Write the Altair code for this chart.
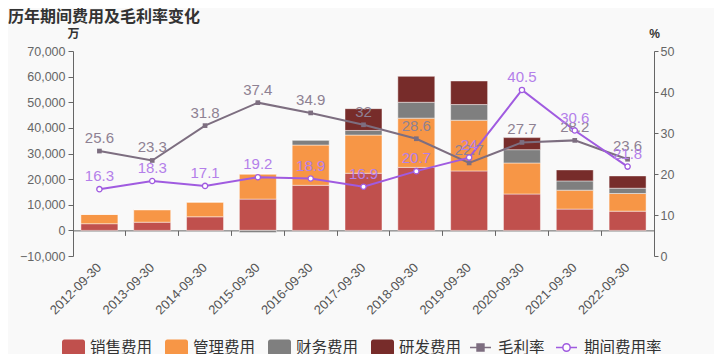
import altair as alt
import pandas as pd

years = ["2012-09-30", "2013-09-30", "2014-09-30", "2015-09-30", "2016-09-30",
         "2017-09-30", "2018-09-30", "2019-09-30", "2020-09-30", "2021-09-30", "2022-09-30"]
sales = [2600, 3200, 5300, 12200, 17600, 22300, 24600, 23200, 14200, 8300, 7500]
mgmt = [3700, 4900, 5800, 9800, 15700, 14900, 19200, 19800, 12100, 7400, 6900]
finance = [0, 0, 0, -800, 1950, 1800, 6200, 6100, 5200, 3600, 2050]
rnd = [0, 0, 0, 0, 0, 8500, 10100, 9200, 4700, 4300, 4800]
gross = [25.6, 23.3, 31.8, 37.4, 34.9, 32, 28.6, 22.7, 27.7, 28.2, 23.6]
period = [16.3, 18.3, 17.1, 19.2, 18.9, 16.9, 20.7, 24, 40.5, 30.6, 21.8]

bar_cats = ["销售费用", "管理费用", "财务费用", "研发费用"]
bar_colors = ["#c0504d", "#f79646", "#7f7f7f", "#772c2a"]
line_cats = ["毛利率", "期间费用率"]
line_colors = ["#7d6e80", "#a05be0"]
label_colors = ["#8e8193", "#b47fea"]

FONT = "Liberation Sans, Noto Sans CJK SC, sans-serif"

rows = []
for i, y in enumerate(years):
    for k, (cat, vals) in enumerate(zip(bar_cats, [sales, mgmt, finance, rnd])):
        rows.append({"year": y, "cat": cat, "value": vals[i], "order": k})
bar_df = pd.DataFrame(rows)

gross_df = pd.DataFrame({"year": years, "rate": gross, "series": line_cats[0]})
period_df = pd.DataFrame({"year": years, "rate": period, "series": line_cats[1]})

band = alt.Scale(paddingInner=0.3, paddingOuter=0.15)

x_axis = alt.Axis(orient="bottom", title=None, labelAngle=-45, labelAlign="right",
                  labelBaseline="middle", domain=False, ticks=False, labelPadding=9,
                  labelFontSize=13, labelColor="#555", labelFont=FONT, grid=False)
x_bar = alt.X("year:N", sort=years, scale=band, axis=x_axis)
x_line = alt.X("year:N", sort=years, scale=band, axis=x_axis)

y_left = alt.Y("value:Q", stack="zero",
               scale=alt.Scale(domain=[-10000, 70000], nice=False, zero=False),
               axis=alt.Axis(orient="left", values=list(range(-10000, 70001, 10000)),
                             format=",.0f",
                             title="万", titleAngle=0, titleX=0, titleY=-18, titleAlign="center",
                             titleBaseline="middle", titleFontSize=12, titleFontWeight="bold",
                             titleColor="#333", titleFont=FONT,
                             labelFontSize=12.5, labelColor="#666", labelFont=FONT, labelPadding=3,
                             tickSize=5, tickColor="#666", domainColor="#666", grid=False))

right_axis = alt.Axis(orient="right", values=[0, 10, 20, 30, 40, 50], format=".0f", title="%",
                      titleAngle=0,
                      titleX=0, titleY=-18, titleAlign="center", titleBaseline="middle",
                      titleFontSize=12, titleFontWeight="bold", titleColor="#333", titleFont=FONT,
                      labelFontSize=12.5, labelColor="#666", labelFont=FONT, labelPadding=2,
                      tickSize=4, tickColor="#666", domainColor="#666", grid=False)
y_right_scale = alt.Scale(domain=[0, 50], nice=False)
y_right = alt.Y("rate:Q", scale=y_right_scale, axis=right_axis)

rrect = ("M-0.8,-0.7H0.8A0.2,0.2 0 0 1 1,-0.5V0.5A0.2,0.2 0 0 1 0.8,0.7"
         "H-0.8A0.2,0.2 0 0 1 -1,0.5V-0.5A0.2,0.2 0 0 1 -0.8,-0.7Z")

LEG_Y = 285
LEG_FS = 15.5

bars = alt.Chart(bar_df).mark_bar(stroke="white", strokeOpacity=0.45, strokeWidth=1).encode(
    x=x_bar,
    y=y_left,
    color=alt.Color("cat:N", sort=bar_cats,
                    scale=alt.Scale(domain=bar_cats, range=bar_colors),
                    legend=alt.Legend(title=None, orient="none", direction="horizontal",
                                      legendX=-11, legendY=LEG_Y, symbolType=rrect, symbolSize=529,
                                      symbolStrokeWidth=0, symbolOpacity=1,
                                      labelFontSize=LEG_FS, labelColor="#333", labelFont=FONT,
                                      labelOffset=5, columnPadding=11, padding=0)),
    order=alt.Order("order:Q"),
)

sq_path = "M-1,0H-0.33M0.33,0H1M-0.33,-0.33H0.33V0.33H-0.33Z"
ci_path = "M-1,0H-0.35M0.35,0H1M0.35,0A0.35,0.35 0 1 1 -0.35,0A0.35,0.35 0 1 1 0.35,0"


def line_legend(x, path, fill):
    return alt.Legend(title=None, orient="none", direction="horizontal", legendX=x, legendY=LEG_Y,
                      symbolType=path, symbolSize=441, symbolStrokeWidth=1.5,
                      symbolFillColor=fill, labelFontSize=LEG_FS, labelColor="#333",
                      labelFont=FONT, labelOffset=6, padding=0)


gross_line = alt.Chart(gross_df).mark_line(strokeWidth=2).encode(
    x=x_line, y=y_right,
    color=alt.Color("series:N", scale=alt.Scale(domain=[line_cats[0]], range=[line_colors[0]]),
                    legend=line_legend(396, sq_path, line_colors[0])))
period_line = alt.Chart(period_df).mark_line(strokeWidth=2).encode(
    x=x_line, y=y_right,
    color=alt.Color("series:N", scale=alt.Scale(domain=[line_cats[1]], range=[line_colors[1]]),
                    legend=line_legend(482, ci_path, "#ffffff")))

gross_pts = alt.Chart(gross_df).mark_point(shape="square", filled=True, size=22, opacity=1,
                                           color=line_colors[0]).encode(x=x_line, y=y_right)
period_pts = alt.Chart(period_df).mark_point(shape="circle", filled=True, size=28, opacity=1,
                                             fill="white", stroke=line_colors[1],
                                             strokeWidth=1.3).encode(x=x_line, y=y_right)

gross_txt = alt.Chart(gross_df).mark_text(dy=-13, fontSize=15, font=FONT,
                                          color=label_colors[0]).encode(
    x=x_line, y=y_right, text=alt.Text("rate:Q"))
period_txt = alt.Chart(period_df).mark_text(dy=-13, fontSize=15, font=FONT,
                                            color=label_colors[1]).encode(
    x=x_line, y=y_right, text=alt.Text("rate:Q"))

right_layer = alt.layer(gross_line, period_line, gross_pts, gross_txt, period_pts,
                        period_txt).resolve_scale(color="independent")

tick_layer = alt.Chart(pd.DataFrame({"year": years})).mark_tick(opacity=0).encode(
    x=alt.X("year:N", sort=years, scale=alt.Scale(paddingInner=0, paddingOuter=0),
            axis=alt.Axis(orient="bottom", title=None, labels=False, ticks=True, tickSize=5,
                          tickColor="#666", domainColor="#666", offset=-25.625, bandPosition=0,
                          grid=False)))

main = alt.layer(bars, right_layer).resolve_scale(y="independent", color="independent")

chart = alt.layer(main, tick_layer).resolve_scale(x="independent").properties(
    width=581, height=205,
    padding={"left": 65, "top": 43, "right": 60, "bottom": 98},
    autosize=alt.AutoSizeParams(type="none"),
    background="#f9f9f9",
    title=alt.TitleParams("历年期间费用及毛利率变化", anchor="start", frame="group", dx=-65,
                          dy=6, fontSize=16, fontWeight="bold", color="#333", font=FONT,
                          offset=8),
).configure_view(stroke=None)

chart.save("out.html", embed_options={"renderer": "svg", "actions": False})
